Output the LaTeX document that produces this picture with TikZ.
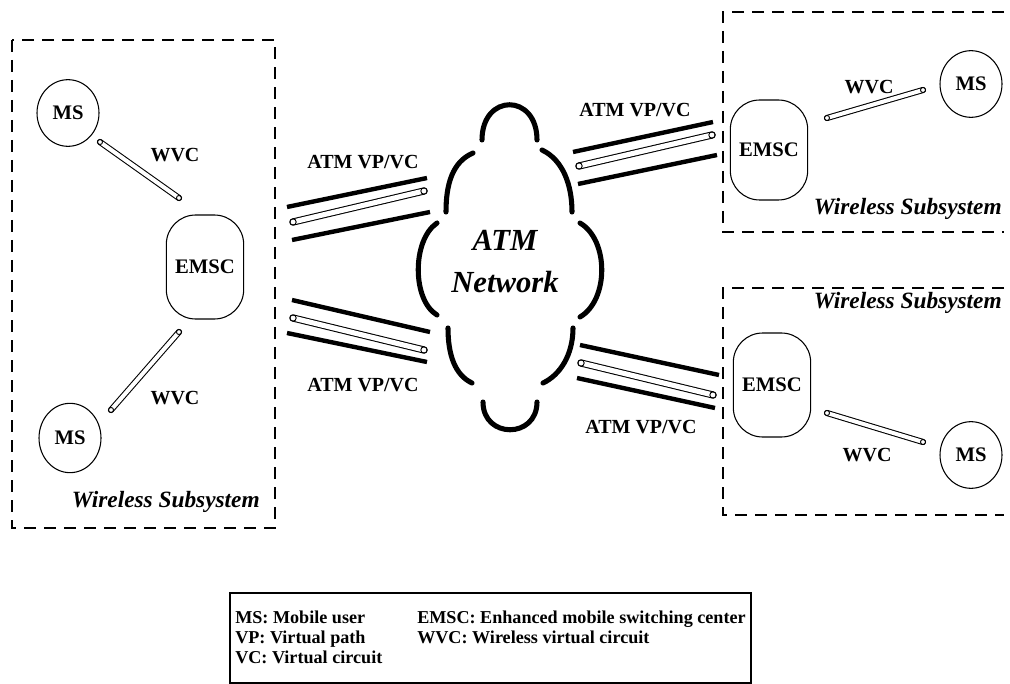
\documentclass[tikz,border=0pt]{standalone}
\usepackage{fontspec}
\setmainfont{Liberation Serif}
\usetikzlibrary{shapes.geometric}
\begin{document}
\begin{tikzpicture}[x=0.75pt,y=-0.75pt,
  dashbox/.style={line width=0.8pt, dash pattern=on 9pt off 6pt},
  msnode/.style={draw, line width=0.8pt, ellipse, inner sep=0pt, minimum width=46.5pt, minimum height=50pt, font=\fontsize{15.5}{18}\selectfont\bfseries},
  emscnode/.style={draw, line width=0.8pt, rectangle, rounded corners=22pt, inner sep=0pt, minimum width=58pt, minimum height=78pt, font=\fontsize{15.5}{18}\selectfont\bfseries},
  lbl/.style={font=\fontsize{15}{18}\selectfont\bfseries, inner sep=0pt},
  wslbl/.style={font=\fontsize{17.5}{20}\selectfont\bfseries\itshape, inner sep=0pt},
  legtxt/.style={font=\fontsize{13.6}{16}\selectfont\bfseries, inner sep=0pt, anchor=base west},
  thickln/.style={line width=3.3pt},
  cloudarc/.style={line width=3.8pt, line cap=round},
  atmout/.style={line width=5.4pt, line cap=round},
  atmin/.style={white, line width=3.8pt, line cap=round},
  atmend/.style={line width=0.7pt},
  wvcout/.style={line width=4.6pt, line cap=round},
  wvcin/.style={white, line width=3.0pt, line cap=round},
  wvcend/.style={line width=0.7pt},
]
\useasboundingbox (0,0) rectangle (1010,684);

% ---------- dashed subsystem boxes ----------
\draw[dashbox] (12,40) rectangle (275,528);
\draw[dashbox] (1004,12) -- (723,12) -- (723,232) -- (1004,232);
\draw[dashbox] (1004,288) -- (723,288) -- (723,515) -- (1004,515);

% ---------- nodes ----------
\node[msnode] (msA) at (68,113) {MS};
\node[emscnode] (emscA) at (205,267) {EMSC};
\node[msnode, minimum height=52pt] (msB) at (70,438) {MS};
\node[emscnode, minimum height=75pt] (emscC) at (769,150) {EMSC};
\node[msnode] (msC) at (971,84) {MS};
\node[emscnode] (emscD) at (772,385) {EMSC};
\node[msnode] (msD) at (971,455) {MS};

% ---------- WVC tubes ----------
\coordinate (wa1) at (100,142); \coordinate (wa2) at (179,198);
\coordinate (wb1) at (179,332); \coordinate (wb2) at (111,410);
\coordinate (wc1) at (827,118); \coordinate (wc2) at (923,90);
\coordinate (wd1) at (827,413); \coordinate (wd2) at (923,442);
\foreach \p/\q in {wa1/wa2, wb1/wb2, wc1/wc2, wd1/wd2}{
  \draw[wvcout] (\p) -- (\q);
  \draw[wvcin] (\p) -- (\q);
  \draw[wvcend] (\p) circle (1.9pt) (\q) circle (1.9pt);
}
\node[lbl] (wvA) at (175,155) {WVC};
\node[lbl] (wvB) at (175,398) {WVC};
\node[lbl] (wvC) at (869,87) {WVC};
\node[lbl] (wvD) at (867,455) {WVC};

% ---------- ATM links ----------
% upper left
\coordinate (ula1) at (287,207); \coordinate (ula2) at (427,178);
\coordinate (ult1) at (293,222); \coordinate (ult2) at (424,191);
\coordinate (ulb1) at (292,240); \coordinate (ulb2) at (430,212);
% lower left
\coordinate (lla1) at (292,300); \coordinate (lla2) at (430,332);
\coordinate (llt1) at (293,318); \coordinate (llt2) at (424,350);
\coordinate (llb1) at (287,333); \coordinate (llb2) at (427,362);
% upper right
\coordinate (ura1) at (573,152); \coordinate (ura2) at (713,122);
\coordinate (urt1) at (579,166); \coordinate (urt2) at (712,135);
\coordinate (urb1) at (578,184); \coordinate (urb2) at (717,155);
% lower right
\coordinate (lra1) at (580,345); \coordinate (lra2) at (719,375);
\coordinate (lrt1) at (581,363); \coordinate (lrt2) at (713,395);
\coordinate (lrb1) at (577,378); \coordinate (lrb2) at (715,408);

\foreach \k in {ul, ll, ur, lr}{
  \draw[thickln] (\k a1) -- (\k a2);
  \draw[thickln] (\k b1) -- (\k b2);
  \draw[atmout] (\k t1) -- (\k t2);
  \draw[atmin] (\k t1) -- (\k t2);
  \draw[atmend] (\k t1) circle (2.4pt) (\k t2) circle (2.4pt);
}
\node[lbl] (atmUL) at (363,162) {ATM VP/VC};
\node[lbl] (atmLL) at (363,385) {ATM VP/VC};
\node[lbl] (atmUR) at (635,110) {ATM VP/VC};
\node[lbl] (atmLR) at (641,427) {ATM VP/VC};

% ---------- ATM cloud ----------
\draw[cloudarc] (482,140) .. controls (482,93) and (537,93) .. (537,140);
\draw[cloudarc] (473,153) .. controls (452,162) and (446,185) .. (446,212);
\draw[cloudarc] (542,150) .. controls (563,160) and (572,185) .. (572,212);
\draw[cloudarc] (437,223) .. controls (412,240) and (412,300) .. (437,315);
\draw[cloudarc] (580,223) .. controls (609,240) and (609,300) .. (580,317);
\draw[cloudarc] (448,328) .. controls (448,355) and (455,375) .. (472,383);
\draw[cloudarc] (573,328) .. controls (573,355) and (560,375) .. (543,383);
\draw[cloudarc] (483,402) .. controls (483,439) and (537,439) .. (537,402);
\node[font=\fontsize{23}{31.5}\selectfont\bfseries\itshape, align=center, inner sep=0pt] (net) at (505,262) {ATM\\Network};

% ---------- subsystem labels ----------
\node[wslbl, anchor=east] (wsA) at (260,502) {Wireless Subsystem};
\node[wslbl, anchor=east] (wsC) at (1002,209) {Wireless Subsystem};
\node[wslbl, anchor=east] (wsD) at (1002,303) {Wireless Subsystem};

% ---------- legend ----------
\draw[line width=0.8pt] (230,593) rectangle (751,683);
\node[legtxt] (l1) at (235,623) {MS: Mobile user};
\node[legtxt] (l2) at (235,643) {VP: Virtual path};
\node[legtxt] (l3) at (235,663) {VC: Virtual circuit};
\node[legtxt] (l4) at (417,623) {EMSC: Enhanced mobile switching center};
\node[legtxt] (l5) at (417,643) {WVC: Wireless virtual circuit};
\end{tikzpicture}
\end{document}
